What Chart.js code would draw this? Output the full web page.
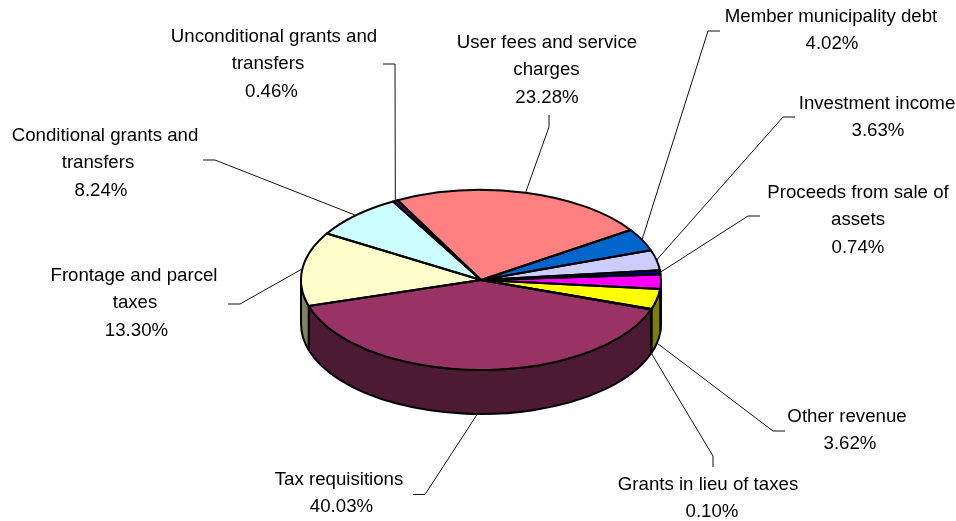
<!DOCTYPE html>
<html>
<head>
<meta charset="utf-8">
<title>Revenue sources</title>
<script src="https://cdn.jsdelivr.net/npm/chart.js@4"></script>
<style>
  html, body { margin: 0; padding: 0; background: #ffffff; }
  canvas { display: block; }
</style>
</head>
<body>
<canvas id="revenuePie" width="956" height="521"></canvas>
<script>
// Revenue shares, clockwise from the start of the largest slice
const categories = [
  "Tax requisitions",
  "Frontage and parcel taxes",
  "Conditional grants and transfers",
  "Unconditional grants and transfers",
  "User fees and service charges",
  "Member municipality debt",
  "Investment income",
  "Proceeds from sale of assets",
  "",
  "Other revenue",
  "Grants in lieu of taxes"
];
const shares = [40.03, 13.30, 8.24, 0.46, 23.28, 4.02, 3.63, 0.74, 2.58, 3.62, 0.10];
const topColors = ["#993366", "#FFFFCC", "#CCFFFF", "#660066", "#FF8080", "#0066CC", "#CCCCFF", "#000080", "#FF00FF", "#FFFF00", "#00FFFF"];
const wallColors = ["#4D1A33", "#808066", "#668080", "#330033", "#804040", "#003366", "#666680", "#000040", "#800080", "#808000", "#008080"];

// Text wrapping and callout placement, by slice index
const wrappedNames = {
  0: ["Tax requisitions"],
  1: ["Frontage and parcel", "taxes"],
  2: ["Conditional grants and", "transfers"],
  3: ["Unconditional grants and", "transfers"],
  4: ["User fees and service", "charges"],
  5: ["Member municipality debt"],
  6: ["Investment income"],
  7: ["Proceeds from sale of", "assets"],
  9: ["Other revenue"],
  10: ["Grants in lieu of taxes"]
};
// text: centre of the first line; shift: horizontal offset of each line; line: leader elbow
const callouts = {
  0: { text: [339, 480], shift: [0, 2.5], line: [[413, 494.5], [425, 494.5]] },
  1: { text: [134, 276], shift: [0, 1, 2.5], line: [[228, 304], [240, 304]] },
  2: { text: [105, 136], shift: [0, -7, -4], line: [[203, 160], [215, 160]] },
  3: { text: [274, 37], shift: [0, -6, -2.5], line: [[383, 64], [395, 64]] },
  4: { text: [547, 43], shift: [0, -0.5, 0], line: [[549, 115], [549, 127]] },
  5: { text: [831, 17], shift: [0, 1], line: [[720, 31], [708, 31]] },
  6: { text: [877, 104], shift: [0, 1], line: [[795, 117], [783, 117]] },
  7: { text: [858, 193], shift: [0, 0, 0], line: [[760, 216], [748, 216]] },
  9: { text: [847, 417], shift: [0, 3], line: [[785, 431], [773, 431]] },
  10: { text: [708, 485], shift: [0, 4], line: [[713, 467], [713, 456]] }
};

const TILT = 0.5;
const DEPTH = 44;
const LINE_HEIGHT = 27.2;
const FONT = '18.67px "Liberation Sans", Arial, sans-serif';

function frontSpan(start, end) {
  // Part of a slice's rim that faces the viewer (canvas angles 0..PI, modulo full turns)
  const TAU = Math.PI * 2;
  const spans = [];
  for (let k = -1; k <= 2; k++) {
    const a = Math.max(start, k * TAU);
    const b = Math.min(end, k * TAU + Math.PI);
    if (b > a) spans.push([a, b]);
  }
  return spans;
}

const tiltedPie = {
  id: "tiltedPie",
  beforeDatasetsDraw(chart) {
    const ctx = chart.ctx;
    const arcs = chart.getDatasetMeta(0).data;
    ctx.save();
    ctx.lineWidth = 2;
    ctx.strokeStyle = "#000000";
    ctx.lineJoin = "round";
    arcs.forEach((arc, i) => {
      const ry = arc.outerRadius * TILT;
      frontSpan(arc.startAngle, arc.endAngle).forEach(([a, b]) => {
        ctx.beginPath();
        ctx.ellipse(arc.x, arc.y, arc.outerRadius, ry, 0, a, b);
        ctx.ellipse(arc.x, arc.y + DEPTH, arc.outerRadius, ry, 0, b, a, true);
        ctx.closePath();
        ctx.fillStyle = wallColors[i];
        ctx.fill();
        ctx.stroke();
      });
    });
    ctx.restore();
    // The library's arcs are flattened into an ellipse for the top face
    const first = arcs[0];
    ctx.save();
    ctx.translate(0, first.y);
    ctx.scale(1, TILT);
    ctx.translate(0, -first.y);
  },
  afterDatasetsDraw(chart) {
    const ctx = chart.ctx;
    ctx.restore();
    const arcs = chart.getDatasetMeta(0).data;
    ctx.save();
    ctx.lineWidth = 2;
    ctx.strokeStyle = "#000000";
    ctx.lineJoin = "round";
    arcs.forEach((arc) => {
      ctx.beginPath();
      ctx.moveTo(arc.x, arc.y);
      ctx.ellipse(arc.x, arc.y, arc.outerRadius, arc.outerRadius * TILT, 0, arc.startAngle, arc.endAngle);
      ctx.closePath();
      ctx.stroke();
    });
    ctx.restore();

    // Leader lines and text
    ctx.save();
    ctx.font = FONT;
    ctx.textAlign = "center";
    ctx.textBaseline = "middle";
    ctx.fillStyle = "#000000";
    arcs.forEach((arc, i) => {
      const spec = callouts[i];
      if (!spec) return;
      const mid = (arc.startAngle + arc.endAngle) / 2;
      const sin = Math.sin(mid);
      const ax = arc.x + arc.outerRadius * Math.cos(mid);
      const ay = arc.y + arc.outerRadius * TILT * sin + (sin > 0 ? DEPTH : 0);
      ctx.beginPath();
      ctx.moveTo(spec.line[0][0], spec.line[0][1]);
      ctx.lineTo(spec.line[1][0], spec.line[1][1]);
      ctx.lineTo(ax, ay);
      ctx.lineWidth = 1;
      ctx.strokeStyle = "#111111";
      ctx.stroke();
      const lines = wrappedNames[i].concat(shares[i].toFixed(2) + "%");
      lines.forEach((line, n) => ctx.fillText(line, spec.text[0] + spec.shift[n], spec.text[1] + n * LINE_HEIGHT));
    });
    ctx.restore();
  }
};

new Chart(document.getElementById("revenuePie"), {
  type: "pie",
  plugins: [tiltedPie],
  data: {
    labels: categories,
    datasets: [{
      data: shares,
      backgroundColor: topColors,
      borderWidth: 0,
      clip: false
    }]
  },
  options: {
    responsive: false,
    animation: false,
    rotation: 109.1,
    layout: { padding: { left: 301, right: 295, top: 100, bottom: 61 } },
    plugins: { legend: { display: false }, tooltip: { enabled: false } }
  }
});
</script>
</body>
</html>
